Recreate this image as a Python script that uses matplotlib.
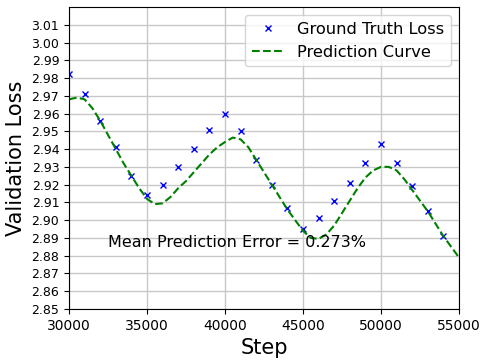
import matplotlib
matplotlib.use("Agg")
import matplotlib.pyplot as plt

# ground truth validation loss, one point every 1000 steps
gt_steps = [30000, 31000, 32000, 33000, 34000, 35000, 36000, 37000, 38000, 39000,
            40000, 41000, 42000, 43000, 44000, 45000, 46000, 47000, 48000, 49000,
            50000, 51000, 52000, 53000, 54000]
gt_loss = [2.982, 2.971, 2.956, 2.941, 2.925, 2.914, 2.920, 2.930, 2.940, 2.951,
           2.960, 2.950, 2.934, 2.920, 2.907, 2.895, 2.901, 2.911, 2.921, 2.932,
           2.943, 2.932, 2.919, 2.905, 2.891]

# prediction curve, read every 500 steps
pred_steps = list(range(30000, 55001, 500))
pred_loss = [2.968, 2.969, 2.968, 2.963, 2.956, 2.948, 2.940, 2.932, 2.925, 2.918,
             2.912, 2.909, 2.9095, 2.913, 2.918, 2.922, 2.927, 2.932, 2.937, 2.941,
             2.944, 2.9465, 2.9455, 2.941, 2.934, 2.927, 2.920, 2.913, 2.906, 2.900,
             2.894, 2.890, 2.8895, 2.892, 2.897, 2.904, 2.911, 2.918, 2.924, 2.928,
             2.930, 2.930, 2.928, 2.923, 2.917, 2.911, 2.905, 2.898, 2.891, 2.885,
             2.879]

y_ticks = [2.85 + 0.01 * i for i in range(17)]
x_ticks = [30000, 35000, 40000, 45000, 50000, 55000]

fig = plt.figure(figsize=(4.87, 3.62), dpi=100)
ax = fig.add_axes([0.1417, 0.1464, 0.8008, 0.8343])

ax.plot(gt_steps, gt_loss, 'x', color='blue', markersize=4, label='Ground Truth Loss')
ax.plot(pred_steps, pred_loss, '--', color='green', linewidth=1.5, label='Prediction Curve')

ax.set_xlim(30000, 55000)
ax.set_ylim(2.85, 3.02)
ax.set_xticks(x_ticks)
ax.set_yticks(y_ticks)
ax.set_yticklabels([f"{v:.2f}" for v in y_ticks])
ax.tick_params(axis='x', labelsize=10)
ax.tick_params(axis='y', labelsize=9)
ax.grid(True, color='#c8c8c8', linewidth=1)
ax.set_axisbelow(True)

ax.set_xlabel('Step', fontsize=15)
ax.set_ylabel('Validation Loss', fontsize=15)

ax.text(32500, 2.8875, 'Mean Prediction Error = 0.273%', fontsize=11.5,
        ha='left', va='center')

ax.legend(loc='upper right', fontsize=11.7)

fig.savefig('out.png', dpi=100)
